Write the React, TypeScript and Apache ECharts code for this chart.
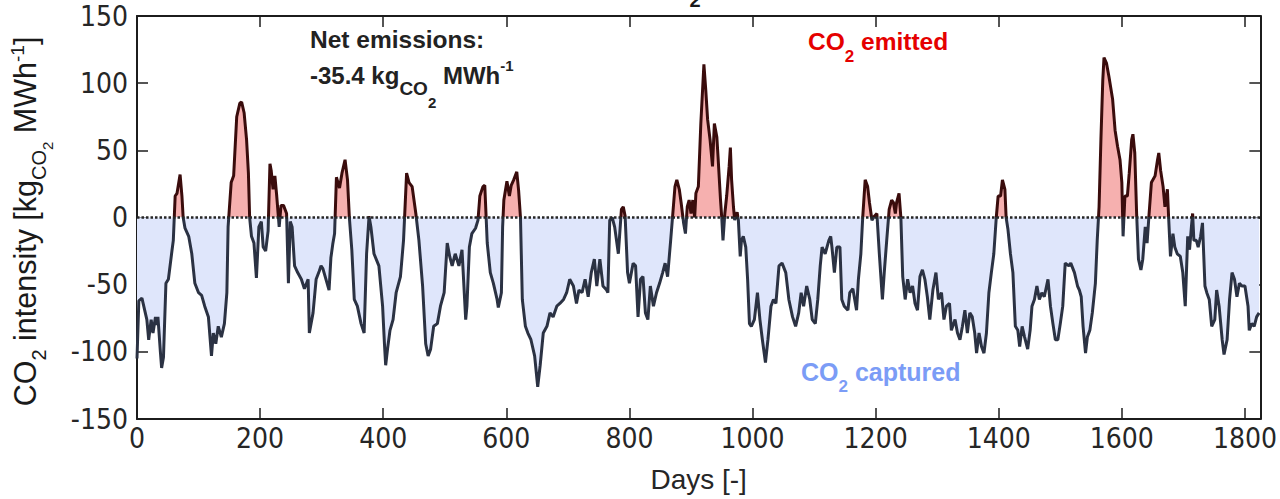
import React, { useEffect, useRef } from "react";
import * as echarts from "echarts";

// Day index of each sampled point of the series
const DAYS: number[] = [
  0, 3, 8, 16, 19, 23, 26, 30, 32, 34, 38, 40, 43, 47, 51, 57, 59, 62, 65, 70,
  73, 75, 78, 84, 89, 94, 100, 105, 110, 116, 121, 124, 128, 132, 137, 142, 146, 148, 153, 157,
  162, 167, 170, 174, 178, 181, 183, 186, 190, 194, 198, 202, 205, 209, 213, 216, 218, 221, 224, 227,
  231, 234, 238, 243, 246, 249, 252, 256, 261, 267, 272, 278, 280, 286, 291, 296, 299, 302, 307, 312,
  315, 318, 321, 324, 327, 329, 333, 338, 342, 345, 349, 353, 358, 364, 369, 373, 377, 380, 385, 393,
  399, 402, 404, 407, 411, 416, 421, 428, 433, 438, 442, 447, 453, 458, 464, 469, 473, 477, 482, 488,
  493, 499, 504, 508, 512, 517, 523, 528, 534, 536, 540, 544, 550, 554, 557, 562, 565, 569, 574, 579,
  585, 587, 592, 594, 596, 601, 605, 608, 612, 617, 620, 623, 626, 631, 635, 640, 646, 651, 655, 660,
  666, 671, 676, 682, 687, 693, 698, 703, 709, 714, 718, 723, 728, 733, 738, 743, 747, 752, 757, 763,
  765, 768, 772, 776, 782, 787, 790, 793, 797, 800, 806, 810, 814, 818, 822, 826, 830, 834, 839, 844,
  849, 854, 858, 862, 867, 870, 874, 877, 881, 884, 888, 891, 894, 897, 900, 903, 906, 908, 912, 916,
  921, 924, 927, 931, 935, 938, 942, 944, 948, 950, 952, 955, 958, 962, 964, 966, 969, 971, 975, 977,
  980, 982, 985, 989, 992, 995, 998, 1003, 1008, 1012, 1016, 1021, 1025, 1030, 1034, 1038, 1043, 1048, 1054, 1059,
  1065, 1070, 1075, 1079, 1083, 1088, 1093, 1097, 1102, 1106, 1110, 1113, 1118, 1124, 1127, 1129, 1133, 1137, 1142, 1145,
  1149, 1155, 1158, 1163, 1169, 1172, 1176, 1179, 1183, 1187, 1190, 1194, 1198, 1202, 1206, 1211, 1214, 1218, 1222, 1226,
  1229, 1232, 1234, 1238, 1241, 1244, 1248, 1252, 1256, 1260, 1264, 1268, 1272, 1276, 1280, 1284, 1288, 1293, 1298, 1302,
  1307, 1311, 1315, 1320, 1323, 1329, 1333, 1337, 1341, 1345, 1349, 1353, 1357, 1361, 1364, 1368, 1372, 1376, 1380, 1384,
  1388, 1392, 1396, 1399, 1403, 1406, 1410, 1412, 1415, 1419, 1423, 1427, 1431, 1434, 1438, 1442, 1447, 1451, 1454, 1458,
  1462, 1466, 1470, 1474, 1480, 1484, 1488, 1492, 1496, 1500, 1504, 1508, 1514, 1517, 1523, 1528, 1531, 1534, 1537, 1541,
  1544, 1548, 1552, 1557, 1560, 1563, 1566, 1569, 1571, 1575, 1579, 1585, 1589, 1593, 1597, 1600, 1602, 1605, 1609, 1612,
  1616, 1618, 1621, 1624, 1627, 1631, 1634, 1638, 1641, 1644, 1648, 1654, 1658, 1660, 1663, 1667, 1670, 1674, 1676, 1679,
  1683, 1686, 1690, 1695, 1699, 1703, 1707, 1710, 1713, 1715, 1717, 1721, 1724, 1728, 1731, 1735, 1738, 1742, 1746, 1751,
  1754, 1758, 1763, 1766, 1771, 1775, 1779, 1783, 1787, 1791, 1795, 1800, 1805, 1807, 1811, 1815, 1819, 1823,
];

// CO2 intensity on those days [kgCO2 / MWh]
const INTENSITY: number[] = [
  -105, -62, -60, -76, -91, -76, -86, -74, -80, -74, -100, -112, -104, -49, -46, -24, -17, 16, 18, 32,
  16, 0, -8, -14, -27, -49, -56, -58, -66, -74, -103, -86, -94, -81, -89, -79, -56, -7, 26, 31,
  75, 85, 86, 78, 58, 33, 0, -14, -19, -45, -7, -3, -22, -25, -10, 40, 35, 21, 31, 16,
  -7, 9, 9, 3, -49, -3, -7, -36, -41, -46, -53, -46, -86, -71, -46, -40, -36, -38, -46, -54,
  -30, -20, -12, 30, 25, 22, 33, 43, 28, 0, -24, -61, -66, -79, -86, -27, 1, -7, -27, -36,
  -66, -94, -110, -98, -84, -76, -56, -44, -17, 33, 26, 23, 3, -17, -51, -94, -103, -98, -81, -79,
  -66, -56, -19, -29, -36, -27, -36, -24, -76, -66, -22, -12, -8, -2, 16, 23, 24, -19, -41, -49,
  -61, -67, -56, -7, 13, 27, 16, 24, 28, 34, 20, 0, -61, -81, -86, -91, -103, -126, -110, -86,
  -81, -71, -74, -66, -64, -61, -56, -46, -51, -64, -54, -56, -46, -59, -41, -31, -51, -31, -51, -54,
  -56, -2, 0, -7, -27, 6, 8, 1, -41, -49, -34, -36, -74, -46, -44, -71, -76, -51, -66, -56,
  -49, -41, -34, -44, -17, 0, 23, 28, 21, 11, -4, -12, 8, 13, 3, 13, 0, 18, 23, 70,
  114, 95, 73, 58, 38, 70, 60, 45, 13, 0, -17, 3, 16, 38, 52, 28, 8, -2, 4, -2,
  -29, -17, -14, -22, -46, -79, -81, -76, -56, -76, -91, -108, -91, -66, -61, -64, -36, -34, -41, -61,
  -74, -81, -71, -56, -66, -51, -61, -76, -79, -61, -36, -22, -27, -17, -14, -22, -41, -22, -22, -61,
  -66, -69, -56, -53, -69, -46, -27, 0, 28, 23, 11, -2, 1, 3, -27, -61, -41, -17, 6, 13,
  11, 3, 11, 18, 0, -44, -61, -46, -56, -51, -64, -69, -44, -39, -46, -59, -76, -54, -41, -61,
  -56, -76, -66, -64, -84, -76, -86, -91, -81, -69, -86, -71, -74, -86, -101, -86, -96, -101, -86, -56,
  -41, -27, 0, 16, 16, 28, 21, 0, -9, -27, -41, -81, -84, -96, -81, -89, -98, -84, -66, -61,
  -51, -61, -56, -59, -46, -66, -79, -91, -91, -79, -66, -34, -36, -34, -41, -51, -54, -59, -81, -101,
  -89, -84, -71, -49, -17, 8, 58, 102, 119, 115, 105, 88, 65, 53, 43, 26, -14, 16, 16, 33,
  58, 62, 48, 3, -31, -39, -31, -7, -19, 1, 26, 31, 43, 48, 35, 23, 8, 21, 0, -29,
  -12, -22, -27, -29, -41, -66, -14, -24, -7, 3, -17, -17, -22, -14, -4, -51, -56, -61, -81, -76,
  -54, -66, -91, -102, -91, -61, -41, -46, -59, -49, -51, -51, -66, -84, -79, -81, -74, -71,
];

// Axis ranges and tick steps
const X_MIN = 0;
const X_MAX = 1825;
const X_STEP = 200;
const Y_MIN = -150;
const Y_MAX = 150;
const Y_STEP = 50;

// Net emission figure quoted in the annotation
const NET_EMISSIONS = -35.4;

const SANS = '"Liberation Sans", Arial, Helvetica, sans-serif';
const NARROW = '"Liberation Sans Narrow", "Arial Narrow", "DejaVu Sans Condensed", sans-serif';
const INK = "#1c1c1c";

// Plot box in pixels
const GRID = { left: 137, right: 16, top: 16, bottom: 80 };
const HEIGHT = 499;

// Two-colour vertical gradient that switches colour exactly at y = 0
function splitAtZero(above: string, below: string) {
  const y0 = GRID.top;
  const y1 = HEIGHT - GRID.bottom;
  const f = (Y_MAX - 0) / (Y_MAX - Y_MIN);
  return new echarts.graphic.LinearGradient(
    0, y0, 0, y1,
    [
      { offset: 0, color: above },
      { offset: f, color: above },
      { offset: f, color: below },
      { offset: 1, color: below },
    ],
    true
  );
}

export default function App() {
  const ref = useRef<HTMLDivElement>(null);

  useEffect(() => {
    if (!ref.current) return;
    const chart = echarts.init(ref.current, undefined, { renderer: "svg" });
    const points = DAYS.map((d, i) => [d, INTENSITY[i]]);

    const frameAxis = {
      axisLine: { show: true, onZero: false, lineStyle: { color: INK, width: 2 } },
      axisTick: { show: true, inside: true, length: 11, lineStyle: { color: INK, width: 1.5 } },
      splitLine: { show: false },
    };

    chart.setOption({
      animation: false,
      backgroundColor: "#ffffff",
      grid: { ...GRID, containLabel: false },
      xAxis: [
        {
          type: "value",
          position: "bottom",
          min: X_MIN,
          max: X_MAX,
          interval: X_STEP,
          ...frameAxis,
          axisLabel: {
            color: "#262626",
            fontSize: 28,
            fontFamily: NARROW,
            margin: 5,
            showMaxLabel: false,
            formatter: (v: number) => (v % X_STEP === 0 ? String(v) : ""),
          },
          name: "Days [-]",
          nameLocation: "middle",
          nameGap: 46,
          nameTextStyle: { color: "#262626", fontSize: 28, fontFamily: SANS },
        },
        {
          type: "value",
          position: "top",
          min: X_MIN,
          max: X_MAX,
          interval: X_STEP,
          ...frameAxis,
          axisLabel: { show: false },
        },
      ],
      yAxis: [
        {
          type: "value",
          position: "left",
          min: Y_MIN,
          max: Y_MAX,
          interval: Y_STEP,
          ...frameAxis,
          axisLabel: {
            color: "#262626",
            fontSize: 28,
            fontFamily: NARROW,
            margin: 9,
          },
        },
        {
          type: "value",
          position: "right",
          min: Y_MIN,
          max: Y_MAX,
          interval: Y_STEP,
          ...frameAxis,
          axisLabel: { show: false },
        },
      ],
      series: [
        {
          name: "fill",
          type: "line",
          data: points,
          showSymbol: false,
          symbol: "none",
          lineStyle: { width: 0, opacity: 0 },
          areaStyle: { opacity: 1, origin: 0, color: splitAtZero("#f6b0af", "#dfe6fb") },
          silent: true,
          markLine: {
            silent: true,
            symbol: "none",
            label: { show: false },
            lineStyle: { type: [2.5, 2], color: "#262626", width: 2.5 },
            data: [{ yAxis: 0 }],
          },
        },
        {
          name: "intensity",
          type: "line",
          data: points,
          showSymbol: false,
          symbol: "none",
          lineStyle: { width: 3, color: splitAtZero("#3a0c0c", "#2b3243") },
          silent: true,
        },
      ],
      graphic: [
        {
          type: "text",
          x: 0,
          y: 0,
          rotation: Math.PI / 2,
          style: {
            x: -221.5,
            y: 8,
            align: "center",
            verticalAlign: "top",
            text: "{m|CO}{s|2}{m| intensity [kg}{s|CO}{ss|2}{m| MWh}{p|-1}{m|]}",
            fill: "#1a1a1a",
            rich: {
              m: { fontSize: 30.5, fontFamily: SANS, verticalAlign: "top", padding: [1, 0, 0, 0] },
              s: { fontSize: 20, fontFamily: SANS, verticalAlign: "top", padding: [21, 0, 0, 0] },
              ss: { fontSize: 15, fontFamily: SANS, verticalAlign: "top", padding: [32, 0, 0, 0] },
              p: { fontSize: 19, fontFamily: SANS, verticalAlign: "top", padding: [0, 0, 0, 0] },
            },
          },
        },
        {
          type: "text",
          style: {
            x: 695,
            y: 0,
            align: "center",
            verticalAlign: "middle",
            text: "2",
            font: `bold 20px ${SANS}`,
            fill: "#1a1a1a",
          },
        },
        {
          type: "text",
          style: {
            x: 310,
            y: 39,
            verticalAlign: "middle",
            text: "Net emissions:",
            font: `bold 24.5px ${SANS}`,
            fill: "#222222",
          },
        },
        {
          type: "text",
          style: {
            x: 310,
            y: 0,
            verticalAlign: "top",
            text: `{m|${NET_EMISSIONS.toFixed(1)} kg}{s|CO}{ss|2}{m| MWh}{p|-1}`,
            fill: "#222222",
            rich: {
              m: { fontSize: 24, fontWeight: "bold", fontFamily: SANS, verticalAlign: "top", padding: [63.5, 0, 0, 0] },
              s: { fontSize: 19, fontWeight: "bold", fontFamily: SANS, verticalAlign: "top", padding: [79, 0, 0, 0] },
              ss: { fontSize: 15, fontWeight: "bold", fontFamily: SANS, verticalAlign: "top", padding: [94.5, 0, 0, 0] },
              p: { fontSize: 15, fontWeight: "bold", fontFamily: SANS, verticalAlign: "top", padding: [57.5, 0, 0, 0] },
            },
          },
        },
        {
          type: "text",
          style: {
            x: 808,
            y: 0,
            verticalAlign: "top",
            text: "{m|CO}{s|2}{m| emitted}",
            fill: "#e50000",
            rich: {
              m: { fontSize: 24.5, fontWeight: "bold", fontFamily: SANS, verticalAlign: "top", padding: [29, 0, 0, 0] },
              s: { fontSize: 17, fontWeight: "bold", fontFamily: SANS, verticalAlign: "top", padding: [47.5, 0, 0, 0] },
            },
          },
        },
        {
          type: "text",
          style: {
            x: 801,
            y: 0,
            verticalAlign: "top",
            text: "{m|CO}{s|2}{m| captured}",
            fill: "#7b9cf6",
            rich: {
              m: { fontSize: 25, fontWeight: "bold", fontFamily: SANS, verticalAlign: "top", padding: [359, 0, 0, 0] },
              s: { fontSize: 17, fontWeight: "bold", fontFamily: SANS, verticalAlign: "top", padding: [378, 0, 0, 0] },
            },
          },
        },
      ],
    });

    return () => chart.dispose();
  }, []);

  return (
    <div
      ref={ref}
      style={{ position: "fixed", left: 0, top: 0, width: 1280, height: HEIGHT, background: "#fff" }}
    />
  );
}
